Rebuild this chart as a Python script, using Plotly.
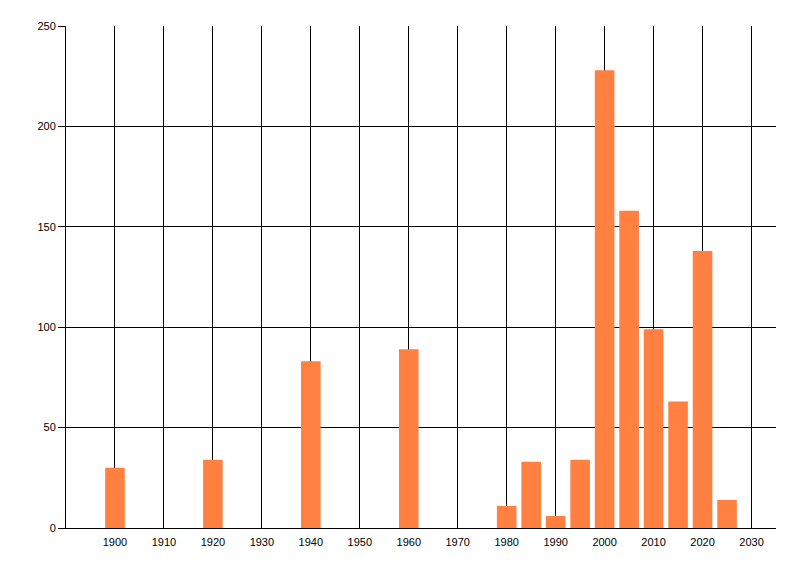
import plotly.graph_objects as go

# decade / half-decade buckets and counts
years = [1900, 1920, 1940, 1960, 1980, 1985, 1990, 1995, 2000, 2005, 2010, 2015, 2020, 2025]
counts = [30, 34, 83, 89, 11, 33, 6, 34, 228, 158, 99, 63, 138, 14]

x_ticks = list(range(1900, 2031, 10))
y_ticks = [0, 50, 100, 150, 200, 250]

fig = go.Figure()

fig.add_trace(go.Bar(
    x=years,
    y=counts,
    width=4,
    marker=dict(color='#FF8040', line=dict(width=0)),
    showlegend=False,
))

# page body has an 8px margin, so margins are shifted to compensate
fig.update_layout(
    width=800,
    height=576,
    margin=dict(l=58, r=32, t=18, b=56),
    plot_bgcolor='white',
    paper_bgcolor='white',
    font=dict(family='Liberation Sans, Arial, sans-serif', size=11, color='black'),
    xaxis=dict(
        range=[1890, 2035],
        tickvals=x_ticks,
        showgrid=True,
        gridcolor='black',
        gridwidth=1,
        showline=True,
        linecolor='black',
        linewidth=1,
        zeroline=False,
        ticks='',
        ticklabelstandoff=4,
    ),
    yaxis=dict(
        range=[0, 250],
        tickvals=y_ticks,
        showgrid=True,
        gridcolor='black',
        gridwidth=1,
        showline=True,
        linecolor='black',
        linewidth=1,
        zeroline=False,
        ticks='outside',
        ticklen=7,
        tickcolor='black',
    ),
)

fig.write_html('out.html')
